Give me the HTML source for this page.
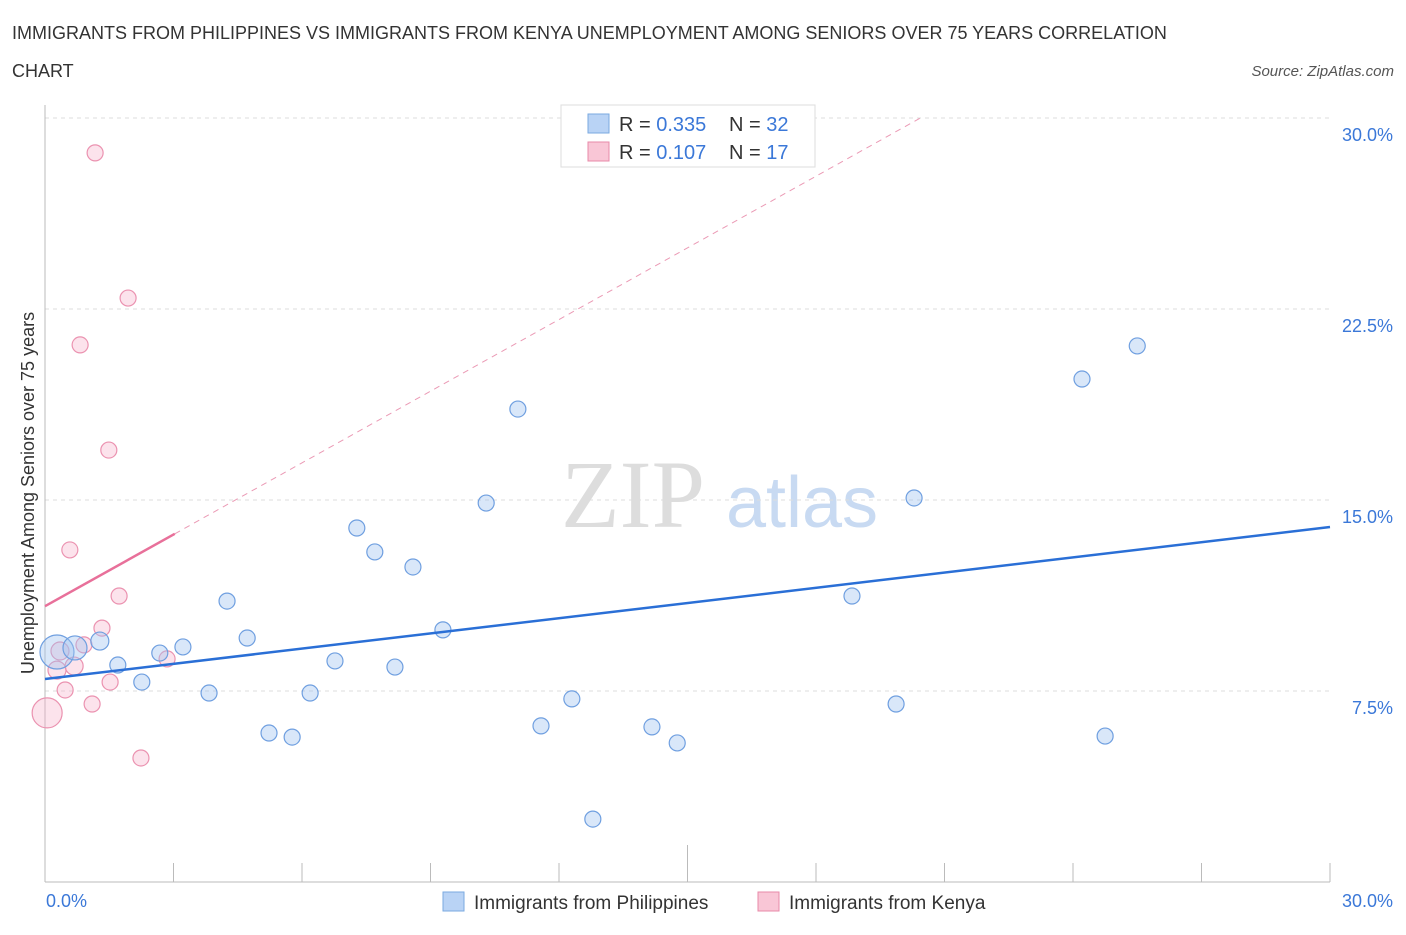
<!DOCTYPE html>
<html><head><meta charset="utf-8"><style>
body{margin:0;background:#fff;font-family:"Liberation Sans",sans-serif}
</style></head><body>
<svg id="c" width="1406" height="930" xmlns="http://www.w3.org/2000/svg">
<text x="12" y="39" font-size="18" fill="#333">IMMIGRANTS FROM PHILIPPINES VS IMMIGRANTS FROM KENYA UNEMPLOYMENT AMONG SENIORS OVER 75 YEARS CORRELATION</text>
<text x="12" y="77" font-size="18" fill="#333">CHART</text>
<text x="1394" y="76" font-size="15" fill="#555" font-style="italic" text-anchor="end">Source: ZipAtlas.com</text>
<text x="633" y="527" font-size="96" fill="#ddd" font-family="Liberation Serif,serif" text-anchor="middle">ZIP</text>
<text x="802" y="527" font-size="72" fill="#c8daf2" text-anchor="middle">atlas</text>
<text transform="translate(34,493) rotate(-90)" font-size="18" fill="#333" text-anchor="middle">Unemployment Among Seniors over 75 years</text>
<g id="grid"></g><g id="marks"></g>
<g>
<rect x="561" y="105" width="254" height="62" fill="#fff" stroke="#ddd"/>
<rect x="588" y="114" width="21" height="19" fill="#b9d3f5" stroke="#7aaae0"/>
<rect x="588" y="142" width="21" height="19" fill="#f9c6d6" stroke="#e88aa8"/>
<text x="619" y="131" font-size="20" fill="#333">R = <tspan fill="#3b78d8">0.335</tspan></text>
<text x="729" y="131" font-size="20" fill="#333">N = <tspan fill="#3b78d8">32</tspan></text>
<text x="619" y="159" font-size="20" fill="#333">R = <tspan fill="#3b78d8"> 0.107</tspan></text>
<text x="729" y="159" font-size="20" fill="#333">N = <tspan fill="#3b78d8"> 17</tspan></text>
</g>
<g>
<rect x="443" y="892" width="21" height="19" fill="#b9d3f5" stroke="#7aaae0"/>
<text x="474" y="909" font-size="19" fill="#333">Immigrants from Philippines</text>
<rect x="758" y="892" width="21" height="19" fill="#f9c6d6" stroke="#e88aa8"/>
<text x="789" y="909" font-size="19" fill="#333">Immigrants from Kenya</text>
</g>
</svg>
<script>
const blueX=[0.28,0.70,1.28,1.70,2.26,2.68,3.22,3.83,4.25,4.72,5.23,5.77,6.19,6.77,7.28,7.70,8.17,8.59,9.29,10.30,11.04,11.58,12.30,12.79,14.17,14.76,18.84,19.87,20.29,24.21,24.75,25.50];
const blueY=[9.03,9.19,9.46,8.52,7.85,8.99,9.23,7.42,11.03,9.58,5.85,5.69,7.42,8.68,13.90,12.96,8.44,12.37,9.90,14.88,18.57,6.13,7.19,2.47,6.09,5.46,11.23,6.99,15.08,19.75,5.73,21.05];
const blueR=[17,12,9,8,8,8,8,8,8,8,8,8,8,8,8,8,8,8,8,8,8,8,8,8,8,8,8,8,8,8,8,8];
const pinkX=[0.05,0.28,0.35,0.47,0.58,0.68,0.82,0.91,1.10,1.17,1.33,1.49,1.52,1.73,1.94,2.24,2.85];
const pinkY=[6.64,8.32,9.07,7.54,13.04,8.48,21.09,9.31,6.99,28.63,9.97,16.96,7.85,11.23,22.93,4.87,8.76];
const pinkR=[15,9,9,8,8,9,8,8,8,8,8,8,8,8,8,8,8];
const yTicks=[7.5,15,22.5,30];
const yTickLabels=["7.5%","15.0%","22.5%","30.0%"];
const xTickLabels=["0.0%","30.0%"];
const blueTrend=[7.97,13.94];
const pinkTrend=[10.83,0.938];
const NS="http://www.w3.org/2000/svg";
const sx=v=>45+v*1285/30, sy=v=>882-v*191/7.5;
function mk(t,a,p){const e=document.createElementNS(NS,t);for(const k in a)e.setAttribute(k,a[k]);p.appendChild(e);return e;}
const g=document.getElementById('grid'),m=document.getElementById('marks');
yTicks.forEach((t,i)=>{
 const l=mk('line',{x1:45,x2:1330,y1:sy(t),y2:sy(t),stroke:'#ddd','stroke-dasharray':'4,4'},g);
 
 
 const tx=mk('text',{x:1393,y:sy(t)+23,'font-size':18,fill:'#3b78d8','text-anchor':'end'},g);tx.textContent=yTickLabels[i];
 
 
});
mk('line',{x1:45,x2:45,y1:105,y2:882,stroke:'#bbb'},g);
mk('line',{x1:45,x2:1330,y1:882,y2:882,stroke:'#bbb'},g);
for(let i=0;i<=10;i++){const x=sx(i*3);const t=mk('line',{x1:x,x2:x,y1:i==5?845:863,y2:882,stroke:'#bbb'},g);
 
 }
const xl0=mk('text',{x:46,y:907,'font-size':18,fill:'#3b78d8'},g);xl0.textContent=xTickLabels[0];


const xl1=mk('text',{x:1393,y:907,'font-size':18,fill:'#3b78d8','text-anchor':'end'},g);xl1.textContent=xTickLabels[1];


pinkX.forEach((x,i)=>{const c=mk('circle',{cx:sx(x),cy:sy(pinkY[i]),r:pinkR[i],fill:'rgba(245,175,200,0.35)',stroke:'#eb92b0','stroke-width':1.2},m);
 
 });
blueX.forEach((x,i)=>{const c=mk('circle',{cx:sx(x),cy:sy(blueY[i]),r:blueR[i],fill:'rgba(160,195,240,0.4)',stroke:'#6f9fe0','stroke-width':1.2},m);
 
 });
const bl=mk('line',{x1:sx(0),y1:sy(blueTrend[0]),x2:sx(30),y2:sy(blueTrend[1]),stroke:'#2a6fd6','stroke-width':2.5},m);


const xEnd=(30-pinkTrend[0])/pinkTrend[1];
const pd=mk('line',{x1:sx(3.03),y1:sy(pinkTrend[0]+pinkTrend[1]*3.03),x2:sx(xEnd),y2:sy(30),stroke:'#eb9ab5','stroke-width':1,'stroke-dasharray':'6,5'},m);


const pl=mk('line',{x1:sx(0),y1:sy(pinkTrend[0]),x2:sx(3.03),y2:sy(pinkTrend[0]+pinkTrend[1]*3.03),stroke:'#e8709a','stroke-width':2.5},m);


</script>
</body></html>
